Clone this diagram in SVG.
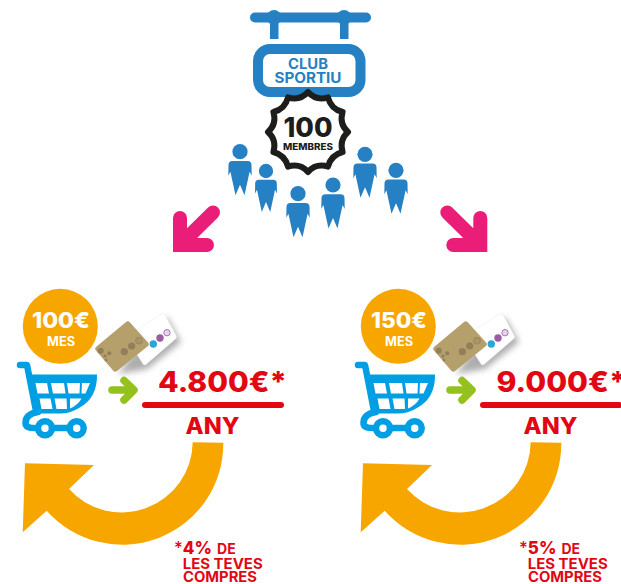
<svg xmlns="http://www.w3.org/2000/svg" xmlns:xlink="http://www.w3.org/1999/xlink" width="621" height="584" viewBox="0 0 621 584">
<style>
text{font-family:Inter,"Liberation Sans",sans-serif;font-weight:800}
.b{fill:#2581C4}.r{fill:#E30613}.w{fill:#fff}
.med{font-weight:700}
.pink{fill:none;stroke:#EA1E78;stroke-width:14;stroke-linecap:round}
.cart{fill:none;stroke:#009FE3;stroke-width:6.5;stroke-linecap:round;stroke-linejoin:round}
.green{fill:none;stroke:#95C11F;stroke-width:7.5;stroke-linecap:round;stroke-linejoin:round}
</style>
<defs>
<filter id="sh" x="-30%" y="-30%" width="160%" height="160%"><feGaussianBlur stdDeviation="3"/></filter>
<g id="person">
<circle cx="0" cy="0" r="7.6" fill="#2581C4"/>
<path fill="#2581C4" d="M-7.500 9.200H7.500Q11.500 9.200 11.500 13L11.700 24L9.600 20L4.500 43.500L0 33L-4.500 43.500L-9.600 20L-11.700 24L-11.500 13Q-11.500 9.200-7.500 9.200Z"/>
</g>
<g id="cards">
<path fill="#777" opacity=".6" filter="url(#sh)" d="M147 333L167 317L181 342L147 369L118 374Z"/>
<path fill="#fff" stroke="#e8e8e8" stroke-width=".5" d="M135 331L161 314Q163.500 313 165 315L176.500 336Q177 338 175.500 339L146 364.500Q144 365.500 143 364L131 345Z"/>
<circle cx="153.300" cy="344" r="3.700" fill="#2BA6D9"/><circle cx="160" cy="338" r="3.700" fill="#9B5BA5"/><circle cx="167" cy="332.700" r="3.200" fill="#E6D5EA" stroke="#9B5BA5" stroke-width=".8"/>
<path fill="#B59F6B" d="M96 347L126 322Q128 320.500 130 322.500L148.500 343Q149.500 345 148 346L117 371Q115 372.500 113.500 371L95.500 350Q94.500 348.500 96 347Z"/>
<g fill="#927E5A"><circle cx="131.700" cy="346" r="3.600"/><circle cx="124.300" cy="351.700" r="3.600"/><circle cx="139" cy="340.700" r="3.400" fill="#A89468" stroke="#927E5A" stroke-width=".7"/><circle cx="100.700" cy="350.700" r="3"/><circle cx="109.300" cy="353.300" r="2"/><circle cx="105" cy="356" r="1.600"/><circle cx="106" cy="360" r="1.300"/></g>
</g>
<g id="cart">
<path fill="#009FE3" d="M27 374.500H97Q97.500 398 79 408Q70 413.500 60 413.500H36Z"/>
<g fill="#fff">
<path d="M35.500 383H47L49 393.500H37.500Z"/><path d="M51 383H64L65.500 393.500H53Z"/><path d="M67 383H80L79.500 393.500H68.500Z"/><path d="M82 383H90L85.500 393.500H81.500Z"/>
<path d="M39.500 398.500H50.500L52.500 409H41.500Z"/><path d="M54.500 398.500H66.500L67 409H56.500Z"/><path d="M70 398.500H81.500Q78 405 70 408.500Z"/>
</g>
<path class="cart" d="M20 365H27L36 411"/>
<path class="cart" d="M38 412Q25.500 414 25.500 423Q25.500 428 34 428"/>
<circle cx="45" cy="428.300" r="7" class="cart"/><circle cx="76.700" cy="428.300" r="7" class="cart"/>
<path class="cart" d="M52 428H70"/>
<path class="green" d="M112 390H133M124 380.500L134 390L124 400"/>
<path stroke="#E30613" stroke-width="6" stroke-linecap="round" d="M145 405H281"/>
<path fill="#F7A600" d="M192.700 442.300L223.300 442.700A101 101 0 0 1 46.700 510.700L22.700 532.300L25 463.300L94 465L69 489A71 71 0 0 0 192.700 442.300Z"/>
</g>
</defs>

<g id="connectors">
<path class="pink" d="M180 218V245H207M180 245L213 212.500"/>
<path class="pink" d="M480.300 218V245H453.300M480.300 245L447.300 212.500"/>
</g>

<g id="club">
<path fill="none" stroke="#2581C4" stroke-width="10" stroke-linecap="round" d="M255 17.500H366"/>
<circle cx="274" cy="17.500" r="7.500" class="b"/><circle cx="344" cy="17.500" r="7.500" class="b"/>
<rect x="270" y="17" width="8.500" height="22" class="b"/><rect x="340" y="17" width="8.500" height="22" class="b"/>
<rect x="258" y="49" width="102.500" height="43" rx="12" fill="#fff" stroke="#2581C4" stroke-width="10"/>
<text class="b med" x="308" y="68.500" font-size="14" text-anchor="middle" textLength="40" lengthAdjust="spacingAndGlyphs">CLUB</text>
<text class="b med" x="308" y="83" font-size="14" text-anchor="middle" textLength="67" lengthAdjust="spacingAndGlyphs">SPORTIU</text>
</g>

<g id="badge">
<path fill="#fff" stroke="#1D1D1B" stroke-width="6" stroke-linejoin="round" d="M308 92Q316 101 328 97.400Q331 109 342.600 112Q339 124 348 132Q339 140 342.600 152Q331 155 328 166.600Q316 163 308 172Q300 163 288 166.600Q285 155 273.400 152Q277 140 268 132Q277 124 273.400 112Q285 109 288 97.400Q300 101 308 92Z"/>
<text x="308" y="136.500" font-size="27" fill="#1D1D1B" text-anchor="middle" textLength="49" lengthAdjust="spacingAndGlyphs">100</text>
<text x="308" y="150" font-size="9" fill="#1D1D1B" text-anchor="middle" textLength="50" lengthAdjust="spacingAndGlyphs">MEMBRES</text>
</g>

<g id="people">
<use xlink:href="#person" transform="translate(240,151.700)"/>
<use xlink:href="#person" transform="translate(266,171) scale(.94)"/>
<use xlink:href="#person" transform="translate(298,193.700)"/>
<use xlink:href="#person" transform="translate(333,185)"/>
<use xlink:href="#person" transform="translate(365,154.300)"/>
<use xlink:href="#person" transform="translate(396,170.300)"/>
</g>

<g id="plan-100">
<use xlink:href="#cards"/>
<circle cx="60.300" cy="326.300" r="37.500" fill="#F7A600"/>
<use xlink:href="#cart"/>
<text class="w" x="61" y="327.500" font-size="22" text-anchor="middle" textLength="58" lengthAdjust="spacingAndGlyphs">100€</text>
<text class="w med" x="61" y="345.700" font-size="12.500" text-anchor="middle" textLength="28" lengthAdjust="spacingAndGlyphs">MES</text>
<text class="r" x="158" y="391.700" font-size="28" textLength="129" lengthAdjust="spacingAndGlyphs">4.800€*</text>
<text class="r" x="212.500" y="433.500" font-size="23" text-anchor="middle" textLength="54" lengthAdjust="spacingAndGlyphs">ANY</text>
<text class="r" x="174" y="554" font-size="17"><tspan font-weight="500">*</tspan>4%<tspan class="med" dx="5" font-size="14">DE</tspan></text>
<text class="r med" x="182.700" y="569" font-size="14" textLength="80" lengthAdjust="spacingAndGlyphs">LES TEVES</text>
<text class="r med" x="183" y="581.700" font-size="14" textLength="74" lengthAdjust="spacingAndGlyphs">COMPRES</text>
</g>

<g id="plan-150">
<use xlink:href="#cards" x="338"/>
<circle cx="398.300" cy="326.300" r="37.500" fill="#F7A600"/>
<use xlink:href="#cart" x="338"/>
<text class="w" x="399" y="327.500" font-size="22" text-anchor="middle" textLength="56" lengthAdjust="spacingAndGlyphs">150€</text>
<text class="w med" x="399" y="345.700" font-size="12.500" text-anchor="middle" textLength="28" lengthAdjust="spacingAndGlyphs">MES</text>
<text class="r" x="496.500" y="391.700" font-size="28" textLength="130" lengthAdjust="spacingAndGlyphs">9.000€*</text>
<text class="r" x="550.500" y="433.500" font-size="23" text-anchor="middle" textLength="54" lengthAdjust="spacingAndGlyphs">ANY</text>
<text class="r" x="519" y="554" font-size="17"><tspan font-weight="500">*</tspan>5%<tspan class="med" dx="5" font-size="14">DE</tspan></text>
<text class="r med" x="527.700" y="569" font-size="14" textLength="80" lengthAdjust="spacingAndGlyphs">LES TEVES</text>
<text class="r med" x="528" y="581.700" font-size="14" textLength="74" lengthAdjust="spacingAndGlyphs">COMPRES</text>
</g>
</svg>
